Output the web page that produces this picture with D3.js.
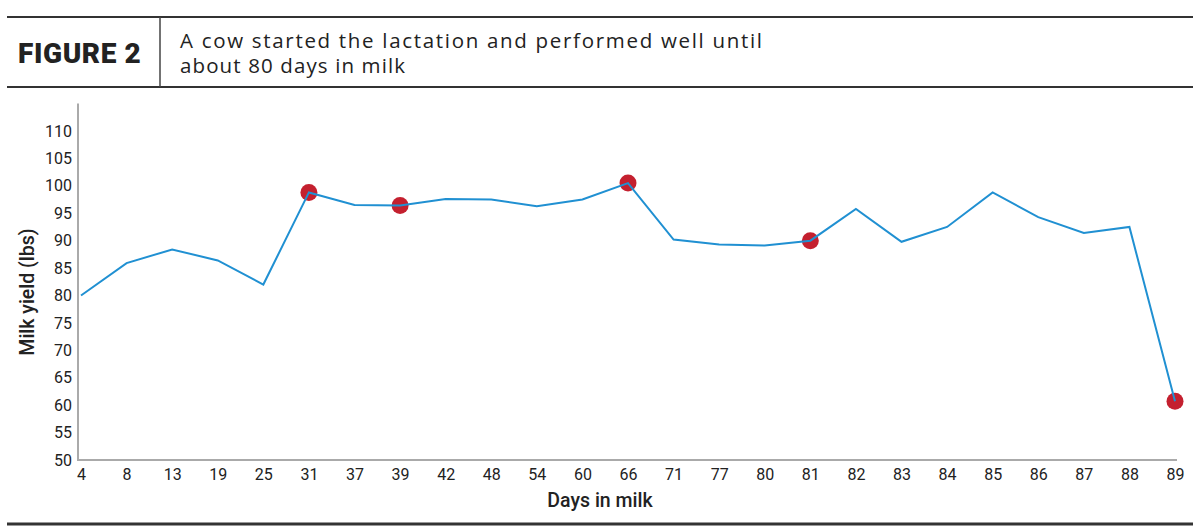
<!DOCTYPE html>
<meta charset="utf-8" />
<html>
    <head>
        <title>Figure 2</title>
        <script src="https://cdn.jsdelivr.net/npm/d3@7"></script>
        <style>
            body { margin: 0; background: #fff; }
            .tick text { font-family: Roboto, sans-serif; font-size: 16px; fill: #222; }
            .axis-title { font-family: Roboto, sans-serif; font-size: 19.5px; font-weight: 500; fill: #222; }
        </style>
    </head>
    <body>
        <script>
            // days in milk (x categories) and the milk yield
            const days = ["4", "8", "13", "19", "25", "31", "37", "39", "42", "48", "54", "60", "66",
                "71", "77", "80", "81", "82", "83", "84", "85", "86", "87", "88", "89"];
            const yieldLbs = [80, 85.9, 88.4, 86.4, 82.0, 98.8, 96.5, 96.4, 97.6, 97.5, 96.3, 97.5, 100.5,
                90.2, 89.3, 89.1, 90.0, 95.8, 89.8, 92.5, 98.8, 94.3, 91.4, 92.5, 60.7];
            // days flagged with a red dot
            const flagged = ["31", "39", "66", "81", "89"];
            const yTicks = [50, 55, 60, 65, 70, 75, 80, 85, 90, 95, 100, 105, 110];

            const width = 1200,
                height = 532;

            const svg = d3.select("body").append("svg")
                .attr("width", width)
                .attr("height", height);

            // --- header box ---
            svg.append("line")
                .attr("x1", 7).attr("x2", 1193).attr("y1", 17).attr("y2", 17)
                .attr("stroke", "#333").attr("stroke-width", 2);
            svg.append("line")
                .attr("x1", 7).attr("x2", 1193).attr("y1", 87).attr("y2", 87)
                .attr("stroke", "#333").attr("stroke-width", 2);
            svg.append("line")
                .attr("x1", 160).attr("x2", 160).attr("y1", 17).attr("y2", 87)
                .attr("stroke", "#444").attr("stroke-width", 1.5);

            svg.append("text")
                .attr("x", 18).attr("y", 63)
                .attr("font-family", "Roboto, sans-serif")
                .attr("font-weight", 900)
                .attr("font-size", 28)
                .attr("letter-spacing", 0.6)
                .attr("fill", "#222")
                .text("FIGURE 2");

            const sub = svg.append("text")
                .attr("font-family", "'Open Sans', sans-serif")
                .attr("font-size", 20.5)
                .attr("fill", "#222");
            sub.append("tspan").attr("x", 180).attr("y", 48)
                .attr("textLength", 582).attr("lengthAdjust", "spacing")
                .text("A cow started the lactation and performed well until");
            sub.append("tspan").attr("x", 180).attr("y", 73)
                .attr("textLength", 225).attr("lengthAdjust", "spacing")
                .text("about 80 days in milk");

            // --- chart ---
            const x = d3.scalePoint().domain(days).range([81, 1175]);
            const y = d3.scaleLinear().domain([50, 115]).range([460, 103.6]);

            const xAxis = svg.append("g")
                .attr("transform", "translate(0,460)")
                .call(d3.axisBottom(x).tickSize(0).tickPadding(9));
            xAxis.select(".domain").remove();

            const yAxis = svg.append("g")
                .attr("transform", "translate(78,0)")
                .call(d3.axisLeft(y).tickValues(yTicks).tickSize(0).tickPadding(6));
            yAxis.select(".domain").remove();

            // axis lines
            svg.append("line")
                .attr("x1", 78).attr("x2", 78).attr("y1", y(115)).attr("y2", y(50))
                .attr("stroke", "#aaa").attr("stroke-width", 2);
            svg.append("line")
                .attr("x1", 77).attr("x2", 1177).attr("y1", y(50)).attr("y2", y(50))
                .attr("stroke", "#aaa").attr("stroke-width", 2);

            svg.append("text")
                .attr("class", "axis-title")
                .attr("text-anchor", "middle")
                .attr("x", 600).attr("y", 507)
                .text("Days in milk");

            svg.append("text")
                .attr("class", "axis-title")
                .attr("text-anchor", "middle")
                .attr("transform", "translate(34,292) rotate(-90)")
                .text("Milk yield (lbs)");

            const points = days.map((d, i) => ({ day: d, value: yieldLbs[i] }));

            // red dots sit under the line
            svg.append("g")
                .selectAll("circle")
                .data(points.filter((p) => flagged.includes(p.day)))
                .enter()
                .append("circle")
                .attr("cx", (d) => x(d.day))
                .attr("cy", (d) => y(d.value))
                .attr("r", 8.5)
                .attr("fill", "#c4202f");

            const line = d3.line()
                .x((d) => x(d.day))
                .y((d) => y(d.value));

            svg.append("path")
                .datum(points)
                .attr("d", line)
                .attr("fill", "none")
                .attr("stroke", "#2090d2")
                .attr("stroke-width", 2);

            // bottom rule
            svg.append("line")
                .attr("x1", 7).attr("x2", 1193).attr("y1", 524).attr("y2", 524)
                .attr("stroke", "#333").attr("stroke-width", 3);
        </script>
    </body>
</html>
